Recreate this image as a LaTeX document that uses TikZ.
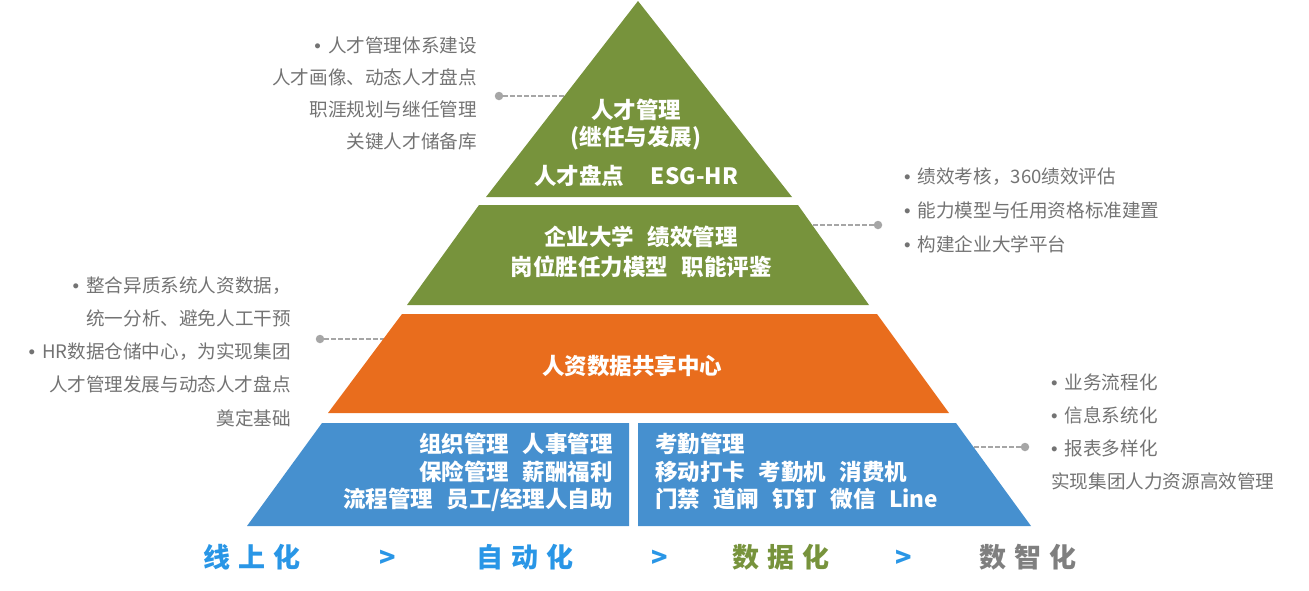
\documentclass[tikz,border=0pt]{standalone}
\usepackage{fontspec}
\setmainfont{Noto Sans CJK SC}
\newfontfamily\stagefont[LetterSpace=30]{Noto Sans CJK SC}
\newfontfamily\dotfont{Liberation Sans}
\usepackage{tikz}
\usetikzlibrary{positioning}
\definecolor{hrolive}{HTML}{77933C}
\definecolor{hrorange}{HTML}{E96D1D}
\definecolor{hrblue}{HTML}{4690CF}
\definecolor{stageblue}{HTML}{2996E6}
\definecolor{stagegray}{HTML}{7F7F7F}
\definecolor{notegray}{HTML}{737373}
\definecolor{leadergray}{HTML}{A6A6A6}
\tikzstyle{layertext} = [text=white, font=\fontsize{22.5}{27}\selectfont\bfseries, inner sep=0pt]
\tikzstyle{notetext} = [text=notegray, font=\fontsize{18.6}{22}\selectfont, inner sep=0pt]
\tikzstyle{stagetext} = [font=\stagefont\bfseries\fontsize{27}{30}\selectfont, inner sep=0pt, anchor=base]
\tikzstyle{leaderdot} = [circle, fill=leadergray, inner sep=0pt, minimum size=8.5pt]
\tikzstyle{leader} = [draw=leadergray, dash pattern=on 4.5pt off 2.5pt, line width=1.8pt]
\newcommand{\tgap}{\hspace{0.6em}}
\newcommand{\bul}{{\dotfont •}\hspace{7pt}}

\begin{document}
\begin{tikzpicture}[x=1pt, y=-1pt]
    \useasboundingbox (0,0) rectangle (1309,590);
    % Leader dots and edge points
    \node [leaderdot] (talentdot) at (499,96) {};
    \coordinate (talentedge) at (566,96);
    \node [leaderdot] (univdot) at (878,225) {};
    \coordinate (univedge) at (810,225);
    \node [leaderdot] (sharedot) at (320,339) {};
    \coordinate (shareedge) at (385,339);
    \node [leaderdot] (basedot) at (1025,447) {};
    \coordinate (baseedge) at (971,447);
    \path [leader] (talentdot) -- (talentedge);
    \path [leader] (univdot) -- (univedge);
    \path [leader] (sharedot) -- (shareedge);
    \path [leader] (basedot) -- (baseedge);

    % Pyramid layers
    \fill [hrolive] (638,1) -- (792,197) -- (486,197) -- cycle;
    \fill [hrolive] (479,205) -- (798,205) -- (869,305) -- (407,305) -- cycle;
    \fill [hrorange] (402,314) -- (877,314) -- (949,413) -- (328,413) -- cycle;
    \fill [hrblue] (322,423) -- (629,423) -- (629,526) -- (247,526) -- cycle;
    \fill [hrblue] (638,423) -- (956,423) -- (1031,526) -- (638,526) -- cycle;

    % Place layer texts
    \node [layertext, anchor=base] (talent) at (636,118.5) {人才管理};
    \node [layertext, anchor=base] (succession) at (636,145.5) {(继任与发展)};
    \node [layertext, anchor=base] (review) at (636,184.5) {人才盘点\hspace{1.2em}ESG-HR};
    \node [layertext, anchor=base] (univ) at (641,245.5) {企业大学\tgap 绩效管理};
    \node [layertext, anchor=base] (compet) at (641,275.5) {岗位胜任力模型\tgap 职能评鉴};
    \node [layertext, anchor=base] (share) at (632,374.5) {人资数据共享中心};
    \node [layertext, anchor=base east] (org) at (613,452.5) {组织管理\tgap 人事管理};
    \node [layertext, anchor=base east] (pay) at (613,480.5) {保险管理\tgap 薪酬福利};
    \node [layertext, anchor=base east] (flow) at (613,507.5) {流程管理\tgap 员工/经理人自助};
    \node [layertext, anchor=base west] (attend) at (655,452.5) {考勤管理};
    \node [layertext, anchor=base west] (device) at (655,480.5) {移动打卡\tgap 考勤机\tgap 消费机};
    \node [layertext, anchor=base west] (access) at (655,507.5) {门禁\tgap 道闸\tgap 钉钉\tgap 微信\tgap Line};

    % Side notes
    \foreach \txt [count=\i] in {{\bul 人才管理体系建设}, {人才画像、动态人才盘点}, {职涯规划与继任管理}, {关键人才储备库}}
        \node [notetext, anchor=base east] (talentnote-\i) at (477,{52+32*(\i-1)}) {\txt};
    \foreach \txt [count=\i] in {{\bul 绩效考核，360绩效评估}, {\bul 能力模型与任用资格标准建置}, {\bul 构建企业大学平台}}
        \node [notetext, anchor=base west] (univnote-\i) at (904,{183+34*(\i-1)}) {\txt};
    \foreach \txt [count=\i] in {{\bul 整合异质系统人资数据，}, {统一分析、避免人工干预}, {\bul HR数据仓储中心，为实现集团}, {人才管理发展与动态人才盘点}, {奠定基础}}
        \node [notetext, anchor=base east] (sharenote-\i) at (291,{292+33.25*(\i-1)}) {\txt};
    \foreach \txt [count=\i] in {{\bul 业务流程化}, {\bul 信息系统化}, {\bul 报表多样化}, {实现集团人力资源高效管理}}
        \node [notetext, anchor=base west] (basenote-\i) at (1051,{389+33*(\i-1)}) {\txt};

    % Stages along the bottom
    \node [stagetext, text=stageblue] (online) at (252,567) {线上化};
    \node [stagetext, text=stageblue] (nexta) at (388,567) {>};
    \node [stagetext, text=stageblue] (auto) at (525,567) {自动化};
    \node [stagetext, text=stageblue] (nextb) at (660,567) {>};
    \node [stagetext, text=hrolive] (data) at (781,567) {数据化};
    \node [stagetext, text=stageblue] (nextc) at (904,567) {>};
    \node [stagetext, text=stagegray] (smart) at (1028,567) {数智化};
\end{tikzpicture}
\end{document}
